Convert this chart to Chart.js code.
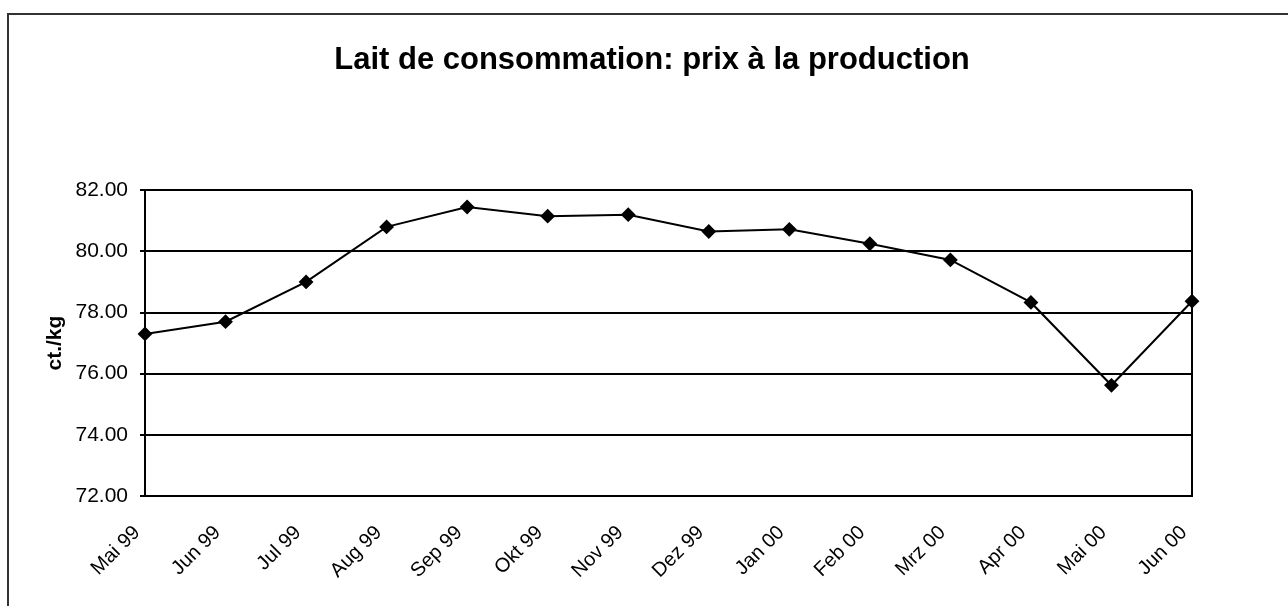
<!DOCTYPE html>
<html>
<head>
<meta charset="utf-8">
<title>Lait de consommation: prix à la production</title>
<script src="https://cdn.jsdelivr.net/npm/chart.js@4.4.1/dist/chart.umd.min.js"></script>
<style>
  html, body { margin: 0; padding: 0; background: #fff; }
  #wrap { position: relative; width: 1288px; height: 606px; }
  #frame {
    position: absolute; left: 7px; top: 13px; right: 0; bottom: 0;
    border-left: 2px solid #333; border-top: 2px solid #333;
  }
  #chart { position: absolute; left: 0; top: 0; }
</style>
</head>
<body>
<div id="wrap">
  <div id="frame"></div>
  <canvas id="chart" width="1288" height="606"></canvas>
</div>
<script>
// months, May 1999 to June 2000
const months = [
  "Mai 99", "Jun 99", "Jul 99", "Aug 99", "Sep 99", "Okt 99", "Nov 99",
  "Dez 99", "Jan 00", "Feb 00", "Mrz 00", "Apr 00", "Mai 00", "Jun 00"
];
// producer price, ct./kg
const prices = [
  77.30, 77.70, 79.00, 80.80, 81.45, 81.15, 81.20,
  80.65, 80.72, 80.25, 79.72, 78.33, 75.62, 78.37
];
const yMin = 72;
const yMax = 82;
const yStep = 2;

const chartFont = "'Liberation Sans', Arial, sans-serif";

new Chart(document.getElementById("chart").getContext("2d"), {
  type: "line",
  data: {
    labels: months,
    datasets: [
      {
        label: "prix à la production",
        data: prices,
        borderColor: "#000",
        backgroundColor: "#000",
        borderWidth: 2,
        tension: 0,
        pointStyle: "rectRot",
        pointRadius: 6,
        pointBackgroundColor: "#000",
        pointBorderColor: "#000",
      },
    ],
  },
  options: {
    responsive: false,
    animation: false,
    devicePixelRatio: 1,
    layout: { padding: { left: 16, right: 0, top: 0, bottom: 0 } },
    plugins: {
      legend: { display: false },
      tooltip: { enabled: false },
      title: {
        display: true,
        text: "Lait de consommation: prix à la production",
        color: "#000",
        font: { family: chartFont, size: 31, weight: "bold" },
        padding: { top: 42, bottom: 111 },
      },
    },
    scales: {
      x: {
        offset: false,
        grid: {
          drawTicks: false,
          lineWidth: 2,
          color: (ctx) =>
            ctx.index === 0 || ctx.index === months.length - 1
              ? "#000"
              : "rgba(0,0,0,0)",
        },
        border: { display: true, color: "#000", width: 2 },
        ticks: {
          color: "#000",
          font: { family: chartFont, size: 20 },
          maxRotation: 45,
          minRotation: 45,
          autoSkip: false,
          padding: 25,
          labelOffset: -8,
        },
        afterFit: (scale) => {
          scale.height = 110;
        },
      },
      y: {
        min: yMin,
        max: yMax,
        grid: { color: "#000", lineWidth: 2, tickLength: 5 },
        border: { display: true, color: "#000", width: 2 },
        ticks: {
          stepSize: yStep,
          color: "#000",
          font: { family: chartFont, size: 21 },
          padding: 12,
          callback: (v) => Number(v).toFixed(2),
        },
        title: {
          display: true,
          text: "ct./kg",
          color: "#000",
          font: { family: chartFont, size: 21, weight: "bold" },
          padding: { top: 27, bottom: 0 },
        },
        afterFit: (scale) => {
          scale.width = 129;
        },
      },
      // empty right-hand axis, only keeps the plot clear of the right edge
      yRight: {
        position: "right",
        min: 0,
        max: 1,
        grid: { display: false },
        border: { display: false },
        ticks: { display: false },
        afterFit: (scale) => {
          scale.width = 96;
        },
      },
    },
  },
});
</script>
</body>
</html>
